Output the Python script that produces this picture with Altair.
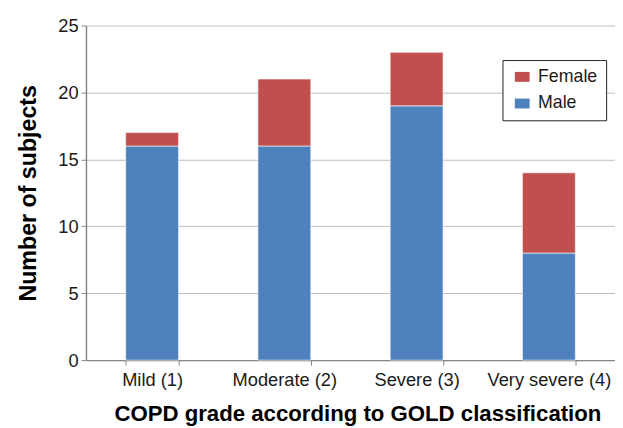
import altair as alt
import pandas as pd

grades = ["Mild (1)", "Moderate (2)", "Severe (3)", "Very severe (4)"]
male = [16, 16, 19, 8]
female = [1, 5, 4, 6]

rows = []
for g, m, f in zip(grades, male, female):
    rows.append({"grade": g, "sex": "Male", "n": m, "ord": 0})
    rows.append({"grade": g, "sex": "Female", "n": f, "ord": 1})
df = pd.DataFrame(rows)

FONT = "Liberation Sans"

chart = alt.Chart(df).mark_bar(stroke="white", strokeWidth=0.6).encode(
    x=alt.X("grade:N", sort=grades,
            scale=alt.Scale(paddingInner=0.6, paddingOuter=0.3),
            axis=alt.Axis(title="COPD grade according to GOLD classification",
                          labelAngle=0, tickBand="extent", labelPadding=6,
                          titlePadding=14, labelFontSize=18.5, titleFontSize=22.5,
                          titleFontWeight="bold", titleX=275)),
    y=alt.Y("n:Q", stack="zero",
            scale=alt.Scale(domain=[0, 25]),
            axis=alt.Axis(title="Number of subjects", values=[0, 5, 10, 15, 20, 25],
                          grid=True, labelFontSize=18.5, titleFontSize=23.5,
                          titleFontWeight="bold", titlePadding=18, labelPadding=3)),
    color=alt.Color("sex:N",
                    scale=alt.Scale(domain=["Female", "Male"], range=["#C0504D", "#4F81BD"]),
                    legend=alt.Legend(title=None, orient="none", legendX=422, legendY=35,
                                      strokeColor="#222222", fillColor="white",
                                      padding=8, rowPadding=9, labelFontSize=18,
                                      symbolType="M-1,-0.67h2v1.34h-2z", symbolSize=225,
                                      symbolStrokeWidth=0, labelOffset=7, symbolOffset=3)),
    order=alt.Order("ord:Q", sort="ascending"),
).properties(
    width=536, height=339,
    autosize=alt.AutoSizeParams(type="none"),
    padding={"left": 79, "top": 15, "right": 0, "bottom": 66},
).configure_view(stroke=None).configure_axis(
    domainColor="#868686", tickColor="#868686", gridColor="#BEBEBE",
    tickSize=5, labelFont=FONT, titleFont=FONT, labelColor="#1a1a1a", titleColor="#000000",
    domainWidth=1.5,
).configure_legend(labelFont=FONT, labelColor="#1a1a1a")

chart.save("out.html", embed_options={"renderer": "svg", "actions": False})
